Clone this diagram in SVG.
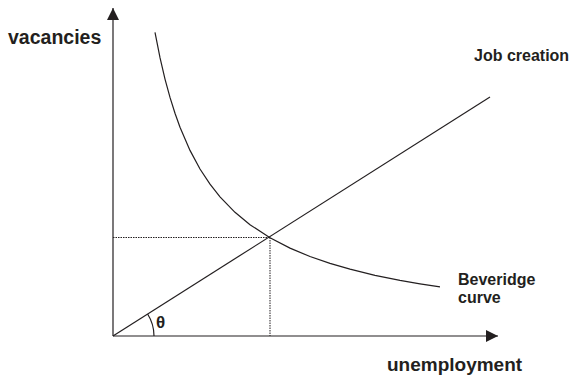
<svg xmlns="http://www.w3.org/2000/svg" width="572" height="378" viewBox="0 0 572 378">
<style>
.lbl{font-family:"Liberation Sans",Arial,sans-serif;font-weight:bold;fill:#231f20}
.ln{stroke:#231f20;stroke-width:1.2;fill:none}
.dot{stroke:#231f20;stroke-width:1;stroke-dasharray:1.5,1;fill:none}
</style>
<defs>
<marker id="ah" viewBox="0 0 12 12" refX="12" refY="6" markerWidth="12" markerHeight="12" markerUnits="userSpaceOnUse" orient="auto">
<path d="M0,0 L12,6 L0,12 Z" fill="#231f20"/>
</marker>
</defs>
<rect width="572" height="378" fill="#ffffff"/>
<g id="axes">
<line class="ln" x1="113" y1="336" x2="113" y2="8" marker-end="url(#ah)"/>
<line class="ln" x1="113" y1="336" x2="498" y2="336" marker-end="url(#ah)"/>
</g>
<g id="connectors">
<line class="ln" x1="113" y1="336" x2="490" y2="97"/>
<path class="ln" d="M155,32.4 L160,57.7 L165,79.1 L170,97.4 L175,113.3 L180,127.3 L190,150.4 L200,169 L210,184.2 L220,196.8 L235,212.3 L250,224.7 L270,237.8 L290,248.1 L310,256.5 L330,263.4 L350,269.2 L375,275.3 L400,280.3 L420,283.8 L440,286.9"/>
<line class="dot" x1="113" y1="237.5" x2="270" y2="237.5"/>
<line class="dot" x1="270" y1="237.5" x2="270" y2="336"/>
<path class="ln" d="M154,336 A41,41 0 0 0 147.6,314"/>
</g>
<g id="n-vacancies"><text class="lbl" x="8" y="44" font-size="19.5">vacancies</text></g>
<g id="n-job"><text class="lbl" x="474" y="61" font-size="16">Job creation</text></g>
<g id="n-bev"><text class="lbl" x="458" y="285" font-size="16">Beveridge</text><text class="lbl" x="458" y="303" font-size="16">curve</text></g>
<g id="n-unemp"><text class="lbl" x="387" y="371" font-size="19">unemployment</text></g>
<g id="n-theta"><text class="lbl" x="156" y="328" font-size="17">θ</text></g>
</svg>
